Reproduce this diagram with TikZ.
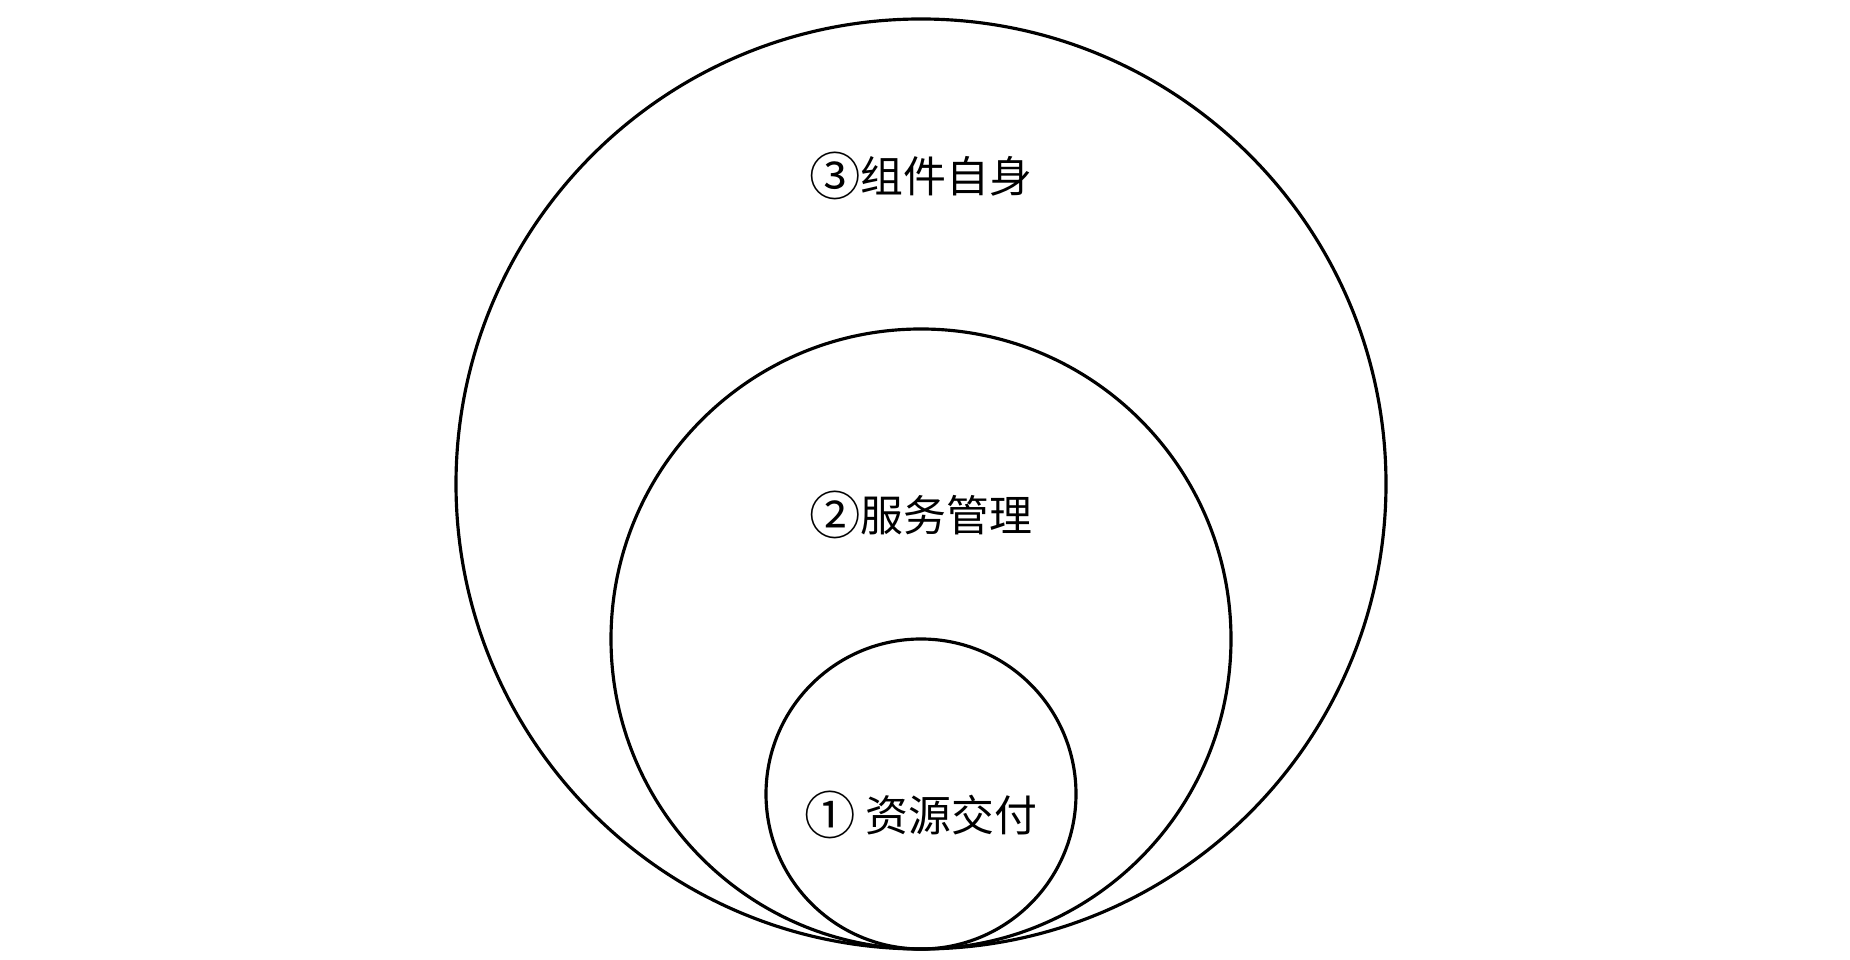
\documentclass[tikz,border=0pt]{standalone}
\usepackage{fontspec}
\usepackage{graphicx}
\newfontfamily\cjk{Noto Sans CJK SC}
\usepackage{tikz}
\usetikzlibrary{positioning}

\newcommand{\circnum}[1]{\raisebox{-0.08em}{\scalebox{1.2}{#1}}}

\tikzset{
  ring/.style={circle, draw=black, line width=1.8pt, inner sep=0pt, outer sep=0pt},
  tag/.style={font=\cjk\fontsize{24.4}{29}\selectfont, inner sep=0pt}
}

\begin{document}
\begin{tikzpicture}[scale=1.0]
  \useasboundingbox (0,0) rectangle (37,19.2);
  %% Three nested circles touching at the bottom
  \node[ring, minimum size=18.6cm] (self) at (18.42,9.52) {};
  \node[ring, minimum size=12.4cm] (service) at (18.42,6.42) {};
  \node[ring, minimum size=6.2cm] (resource) at (18.42,3.32) {};
  %% Labels
  \node[tag] (selflabel) at (18.42,15.68) {\circnum{③}组件自身};
  \node[tag] (servicelabel) at (18.42,8.90) {\circnum{②}服务管理};
  \node[tag] (resourcelabel) at (18.42,2.90) {\circnum{①} 资源交付};
\end{tikzpicture}
\end{document}
